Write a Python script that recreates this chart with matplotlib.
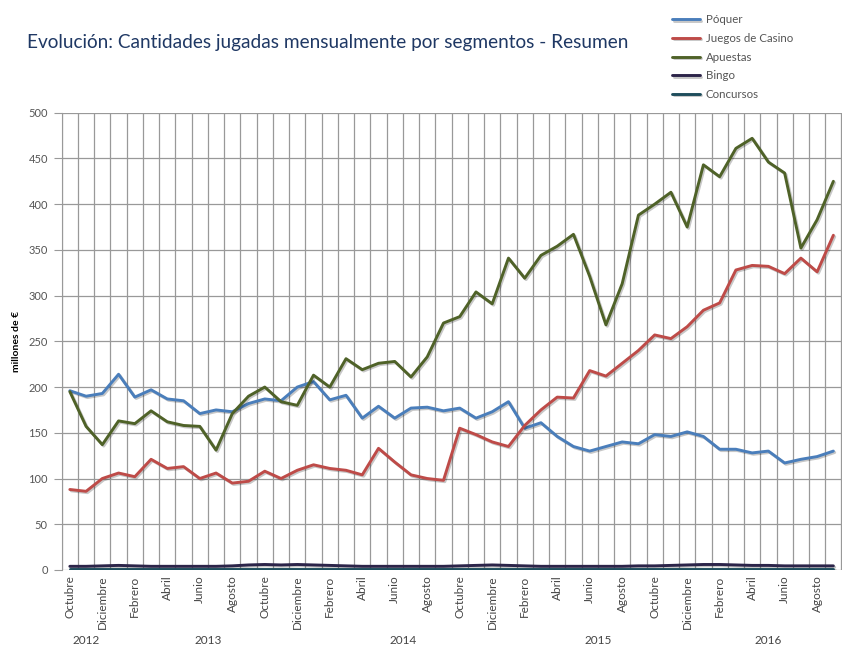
import pandas as pd
import matplotlib.pyplot as plt
import matplotlib.patheffects as pe

# months shown: Octubre 2012 .. Septiembre 2016
fechas = pd.period_range('2012-10', '2016-09', freq='M')
nombres_mes = ['Enero', 'Febrero', 'Marzo', 'Abril', 'Mayo', 'Junio', 'Julio',
               'Agosto', 'Septiembre', 'Octubre', 'Noviembre', 'Diciembre']

# millones de euros
poquer = [196, 190, 193, 214, 189, 197, 187, 185, 171, 175, 173, 182, 187, 185, 200, 206,
          186, 191, 166, 179, 166, 177, 178, 174, 177, 166, 173, 184, 155, 161, 146,
          135, 130, 135, 140, 138, 148, 146, 151, 146, 132, 132, 128, 130, 117, 121, 124, 130]
casino = [88, 86, 100, 106, 102, 121, 111, 113, 100, 106, 95, 97, 108, 100, 109, 115,
          111, 109, 104, 133, 118, 104, 100, 98, 155, 148, 140, 135, 158, 175, 189,
          188, 218, 212, 226, 240, 257, 253, 266, 284, 292, 328, 333, 332, 324, 341, 326, 366]
apuestas = [195, 157, 137, 163, 160, 174, 162, 158, 157, 131, 171, 190, 200, 184, 180, 213,
            200, 231, 219, 226, 228, 211, 233, 270, 277, 304, 291, 341, 319, 344, 354,
            367, 321, 268, 313, 388, 400, 413, 375, 443, 430, 461, 472, 446, 434, 352, 383, 425]
bingo = [4, 4, 4.5, 5, 4.5, 4, 4, 4, 4, 4, 4.5, 5.5, 6, 5.5, 6, 5.5,
         5, 4.5, 4, 4, 4, 4, 4, 4, 4.5, 5, 5.5, 5, 4.5, 4, 4,
         4, 4, 4, 4, 4.5, 4.5, 5, 5.5, 6, 6, 5.5, 5, 5, 4.5, 4.5, 4.5, 4.5]
concursos = [1.5, 1.5, 1.5, 1.5, 1.5, 1.5, 1.5, 1.5, 1.5, 1.5, 1.5, 1.5, 1.5, 1.5, 1.5, 1.5,
             1.5, 1.5, 1.5, 1.5, 1.5, 1.5, 1.5, 1.5, 1.5, 1.5, 1.5, 1.5, 1.5, 1.5, 1.5,
             1.5, 1.5, 1.5, 1.5, 1.5, 1.5, 1.5, 1.5, 1.5, 1.5, 1.5, 1.5, 1.5, 1.5, 1.5, 1.5, 1.5]

series = ['Póquer', 'Juegos de Casino', 'Apuestas', 'Bingo', 'Concursos']
valores = [poquer, casino, apuestas, bingo, concursos]
colores = ['#4a7ebb', '#be4b48', '#4f6228', '#2c2449', '#1e4d5c']

plt.rcParams['font.family'] = ['Lato', 'DejaVu Sans']

fig = plt.figure(figsize=(8.5, 6.7), dpi=100)
ax = fig.add_axes([0.0726, 0.1493, 0.9174, 0.6825])

x = list(range(len(fechas)))
sombra = [pe.SimpleLineShadow(offset=(1.0, -1.0), shadow_color='k', alpha=0.22), pe.Normal()]
lineas = []
for nombre, vals, col in zip(series, valores, colores):
    ln, = ax.plot(x, vals, color=col, lw=2.1, solid_joinstyle='round',
                  solid_capstyle='round', label=nombre, path_effects=sombra, zorder=3)
    lineas.append(ln)

ax.set_xlim(-0.5, len(fechas) - 0.5)
ax.set_ylim(0, 500)
ax.set_yticks(range(0, 501, 50))

# month grid (cell borders) and labels every second month
ax.set_xticks([i - 0.5 for i in range(len(fechas) + 1)], minor=True)
ax.set_xticks(x[::2])
ax.set_xticklabels([nombres_mes[f.month - 1] for f in fechas[::2]], rotation=90,
                   fontsize=8.5, color='#444')
ax.tick_params(axis='x', which='both', length=0, pad=4)
ax.tick_params(axis='y', length=6, color='#999', labelsize=8, labelcolor='#555', pad=4)
ax.grid(True, which='minor', axis='x', color='#999', lw=0.9)
ax.grid(True, which='major', axis='y', color='#999', lw=0.9)
ax.set_axisbelow(True)
for s in ['top', 'right', 'bottom']:
    ax.spines[s].set_visible(False)
ax.spines['left'].set_color('#999')

# year labels centred under their months
for anio in sorted(set(f.year for f in fechas)):
    pos = [i for i, f in enumerate(fechas) if f.year == anio]
    ax.text(sum(pos) / len(pos), -0.155, str(anio), transform=ax.get_xaxis_transform(),
            ha='center', va='center', fontsize=8.5, color='#444')

ax.set_ylabel('millones de €', fontsize=7.5, fontweight='bold', labelpad=5)

fig.text(0.032, 0.936, 'Evolución: Cantidades jugadas mensualmente por segmentos - Resumen',
         fontsize=13.7, color='#1f3864', va='center', ha='left')

fig.legend(handles=lineas, loc='upper left', bbox_to_anchor=(0.784, 0.987), frameon=False,
           fontsize=8.3, labelcolor='#555', handlelength=2.4, handletextpad=0.5,
           labelspacing=0.66, borderpad=0)

plt.savefig('out.png', dpi=100)
